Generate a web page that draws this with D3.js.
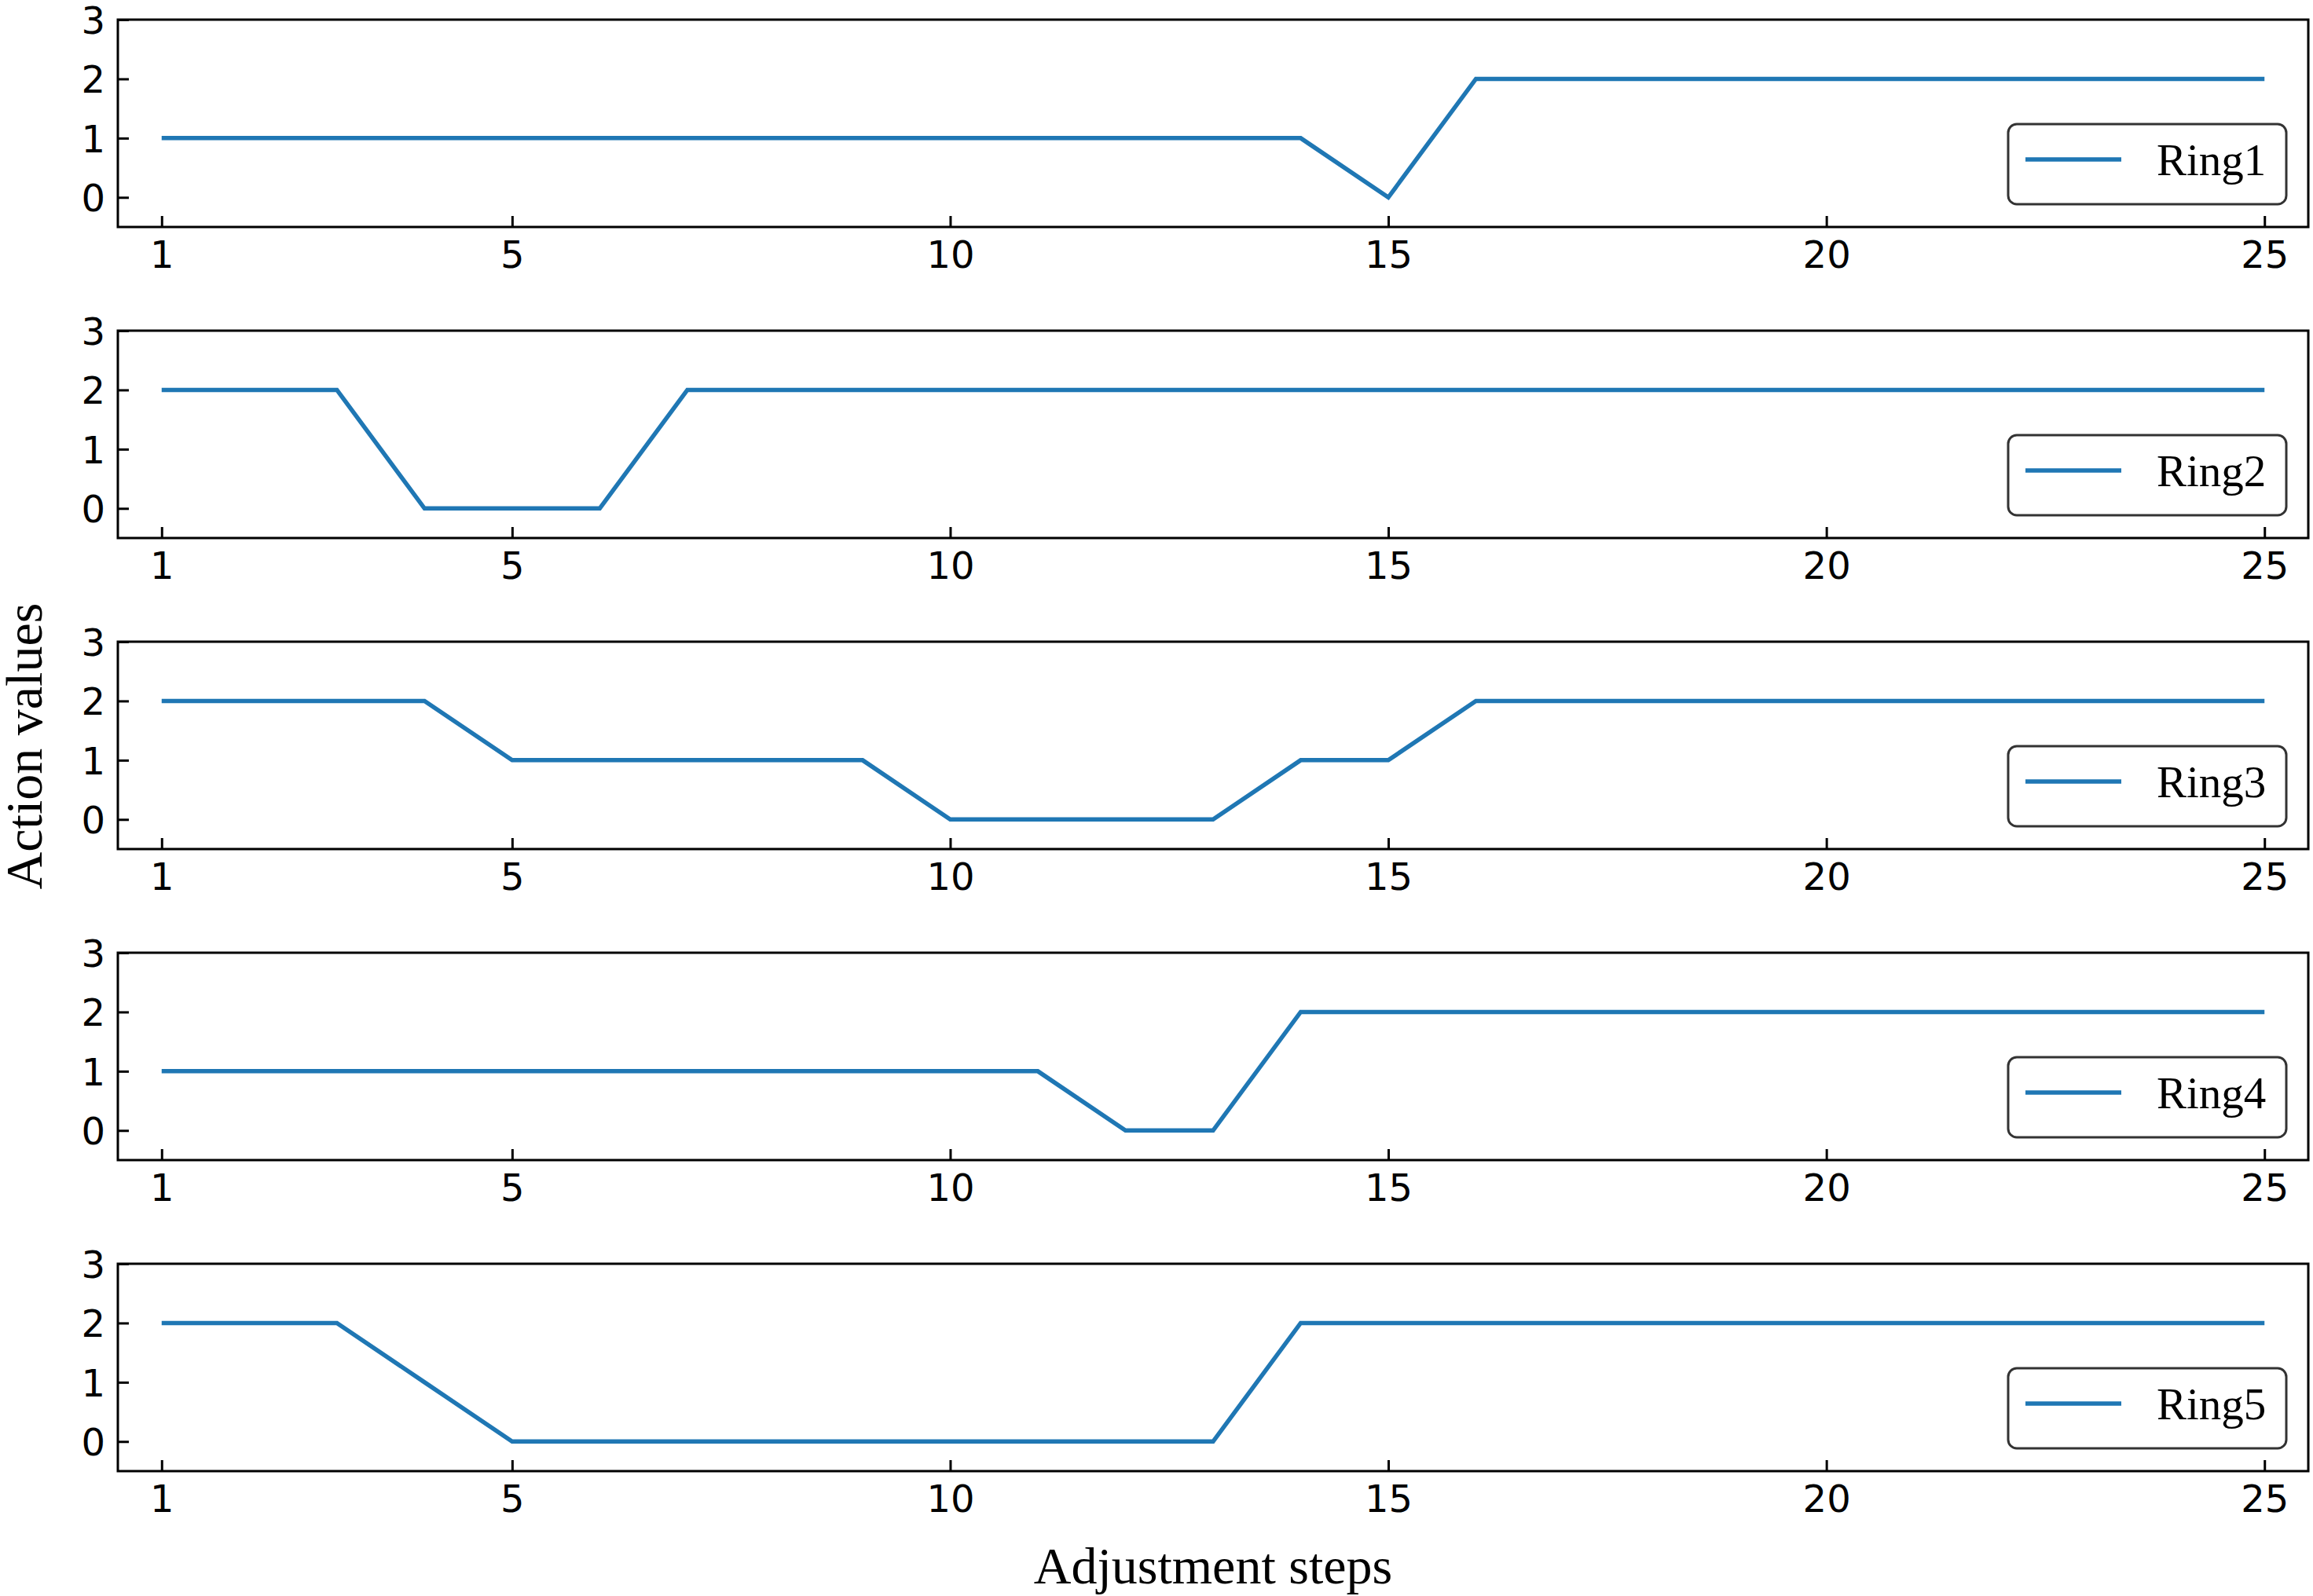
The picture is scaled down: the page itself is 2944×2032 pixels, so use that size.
<!DOCTYPE html>
<html>
<head>
<meta charset="utf-8">
<script src="https://cdn.jsdelivr.net/npm/d3@7"></script>
<style>
  html, body { margin: 0; padding: 0; background: #fff; }
  svg { display: block; }
</style>
</head>
<body>
<svg id="chart" width="2944" height="2032"></svg>
<script>
// ---- data ----
const steps = d3.range(1, 26); // 1..25
const seriesNames = ["Ring1", "Ring2", "Ring3", "Ring4", "Ring5"];
const ring1 = [1,1,1,1,1,1,1,1,1,1,1,1,1,1,0,2,2,2,2,2,2,2,2,2,2];
const ring2 = [2,2,2,0,0,0,2,2,2,2,2,2,2,2,2,2,2,2,2,2,2,2,2,2,2];
const ring3 = [2,2,2,2,1,1,1,1,1,0,0,0,0,1,1,2,2,2,2,2,2,2,2,2,2];
const ring4 = [1,1,1,1,1,1,1,1,1,1,1,0,0,2,2,2,2,2,2,2,2,2,2,2,2];
const ring5 = [2,2,2,1,0,0,0,0,0,0,0,0,0,2,2,2,2,2,2,2,2,2,2,2,2];
const seriesValues = [ring1, ring2, ring3, ring4, ring5];
const xTicks = [1, 5, 10, 15, 20, 25];
const yTicks = [0, 1, 2, 3];
const xLabel = "Adjustment steps";
const yLabel = "Action values";

// ---- layout ----
const W = 2944, H = 2032;
const left = 150, right = 2938;
const panelTop0 = 25, panelH = 264, panelStep = 396;
const blue = "#1f77b4";
const tickFont = "'DejaVu Sans', sans-serif";
const serif = "'Liberation Serif', 'Times New Roman', serif";

const svg = d3.select("#chart");
svg.append("rect").attr("width", W).attr("height", H).attr("fill", "#fff");

const x = d3.scaleLinear().domain([0.5, 25.5]).range([left, right]);

seriesValues.forEach((vals, i) => {
  const top = panelTop0 + i * panelStep;
  const bottom = top + panelH;
  const y = d3.scaleLinear().domain([-0.5, 3]).range([bottom, top]);
  const g = svg.append("g");

  // line
  const line = d3.line().x((d, j) => x(steps[j])).y(d => y(d));
  g.append("path")
    .datum(vals)
    .attr("d", line)
    .attr("fill", "none")
    .attr("stroke", blue)
    .attr("stroke-width", 5.5)
    .attr("stroke-linejoin", "miter");

  // x axis (ticks inward)
  const xAxis = d3.axisBottom(x).tickValues(xTicks).tickSize(-14).tickPadding(0).tickFormat(d3.format("d"));
  const gx = g.append("g").attr("transform", `translate(0,${bottom})`).call(xAxis);
  gx.select(".domain").remove();
  gx.selectAll(".tick line").attr("stroke", "#000").attr("stroke-width", 3);
  gx.selectAll(".tick text")
    .attr("y", 52).attr("dy", null)
    .attr("font-family", tickFont).attr("font-size", 48).attr("fill", "#000");

  // y axis (ticks inward)
  const yAxis = d3.axisLeft(y).tickValues(yTicks).tickSize(-14).tickPadding(0).tickFormat(d3.format("d"));
  const gy = g.append("g").attr("transform", `translate(${left},0)`).call(yAxis);
  gy.select(".domain").remove();
  gy.selectAll(".tick line").attr("stroke", "#000").attr("stroke-width", 3);
  gy.selectAll(".tick text")
    .attr("x", -16).attr("dy", "0.36em")
    .attr("font-family", tickFont).attr("font-size", 48).attr("fill", "#000");

  // frame
  g.append("rect")
    .attr("x", left).attr("y", top)
    .attr("width", right - left).attr("height", bottom - top)
    .attr("fill", "none").attr("stroke", "#000").attr("stroke-width", 3);

  // legend
  const lw = 354, lh = 102;
  const lx = right - 28 - lw, ly = bottom - 29 - lh;
  const lg = g.append("g").attr("transform", `translate(${lx},${ly})`);
  lg.append("rect")
    .attr("width", lw).attr("height", lh).attr("rx", 11).attr("ry", 11)
    .attr("fill", "#fff").attr("stroke", "#333").attr("stroke-width", 3);
  lg.append("line")
    .attr("x1", 22).attr("x2", 144).attr("y1", 45).attr("y2", 45)
    .attr("stroke", blue).attr("stroke-width", 5.5);
  lg.append("text")
    .attr("x", 189).attr("y", 65)
    .attr("font-family", serif).attr("font-size", 57).attr("fill", "#000")
    .text(seriesNames[i]);
});

// axis titles
svg.append("text")
  .attr("x", (left + right) / 2).attr("y", 2016)
  .attr("text-anchor", "middle")
  .attr("font-family", serif).attr("font-size", 66).attr("fill", "#000")
  .text(xLabel);

svg.append("text")
  .attr("transform", "translate(53,950) rotate(-90)")
  .attr("text-anchor", "middle")
  .attr("font-family", serif).attr("font-size", 66).attr("fill", "#000")
  .text(yLabel);
</script>
</body>
</html>
